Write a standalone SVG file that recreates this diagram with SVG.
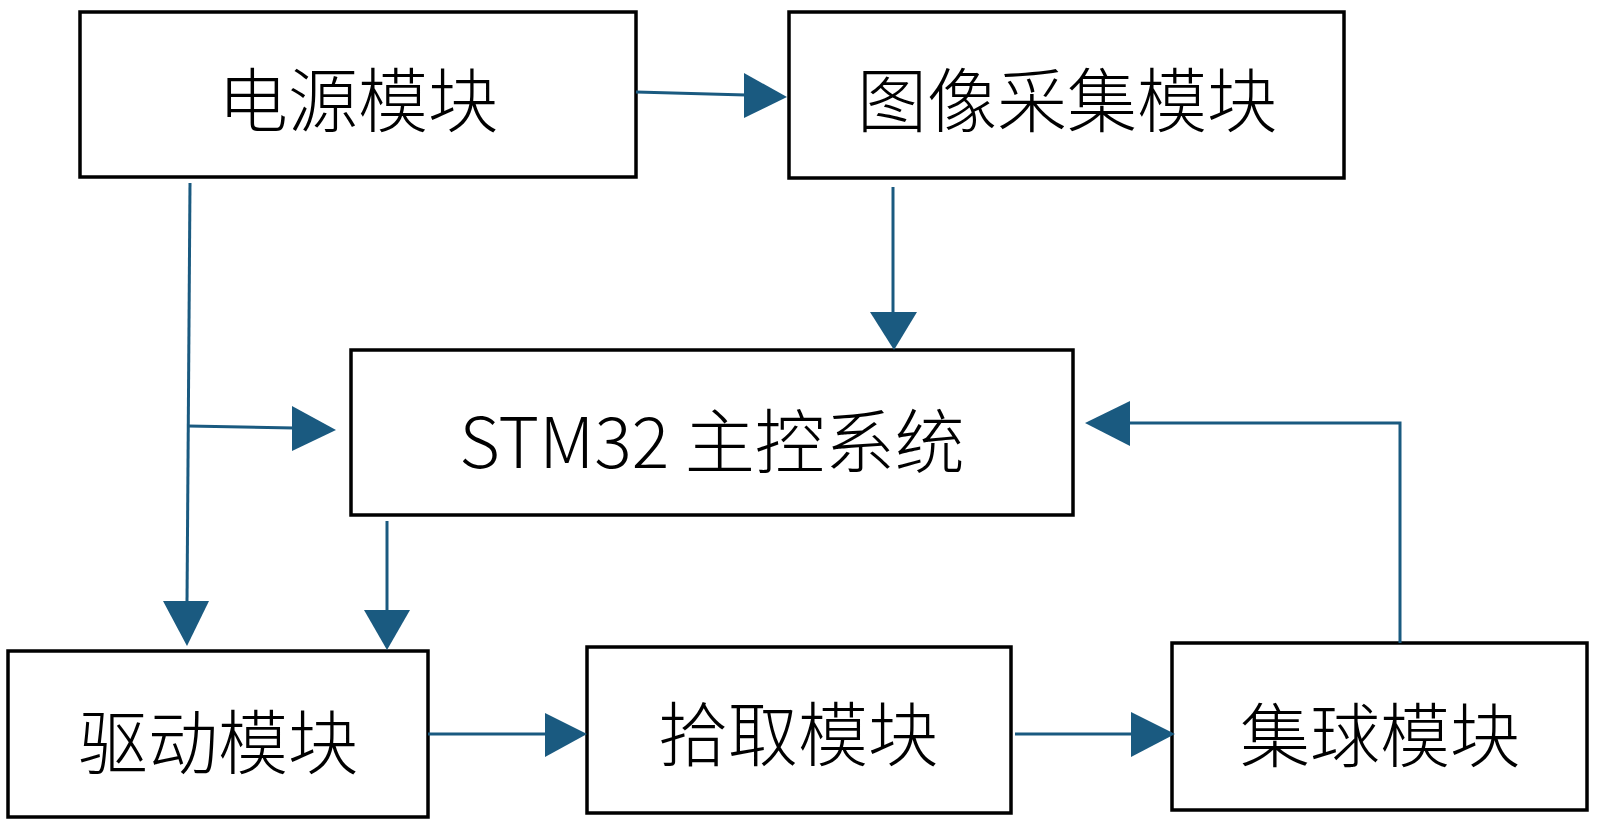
<svg xmlns="http://www.w3.org/2000/svg" width="1600" height="828" viewBox="0 0 1600 828">
<style>
.box{fill:#ffffff;stroke:#000000;stroke-width:3.5}
.lbl{font-family:"Noto Sans CJK SC","Noto Sans",sans-serif;font-size:70px;font-weight:300;fill:#000000;text-anchor:middle}
.ln{fill:none;stroke:#1a5a80;stroke-width:3}
.ah{fill:#1a5a80;stroke:none}
</style>
<rect width="1600" height="828" fill="#ffffff"/>
<g id="node-power"><rect class="box" x="80" y="12" width="556" height="165"/><text class="lbl" x="358" y="127">电源模块</text></g>
<g id="node-image"><rect class="box" x="789" y="12" width="555" height="166"/><text class="lbl" x="1067" y="127">图像采集模块</text></g>
<g id="node-stm32"><rect class="box" x="351" y="350" width="722" height="165"/><text class="lbl" x="712" y="468">STM32 主控系统</text></g>
<g id="node-drive"><rect class="box" x="8" y="651" width="420" height="166"/><text class="lbl" x="218" y="769">驱动模块</text></g>
<g id="node-pick"><rect class="box" x="587" y="647" width="424" height="166"/><text class="lbl" x="798" y="761">拾取模块</text></g>
<g id="node-collect"><rect class="box" x="1172" y="643" width="415" height="167"/><text class="lbl" x="1380" y="762">集球模块</text></g>
<g id="connectors">
<line class="ln" x1="636" y1="92" x2="746" y2="95"/>
<polygon class="ah" points="744,73 787,97 744,118"/>
<line class="ln" x1="190" y1="183" x2="187" y2="603"/>
<polygon class="ah" points="163,601 209,601 187,646"/>
<line class="ln" x1="188" y1="426" x2="294" y2="428"/>
<polygon class="ah" points="292,406 336,430 292,451"/>
<line class="ln" x1="387" y1="521" x2="387" y2="612"/>
<polygon class="ah" points="364,610 410,610 387,650"/>
<line class="ln" x1="893" y1="187" x2="893" y2="314"/>
<polygon class="ah" points="870,312 917,312 894,350"/>
<line class="ln" x1="428" y1="734" x2="547" y2="734"/>
<polygon class="ah" points="545,713 587,734 545,757"/>
<line class="ln" x1="1015" y1="734" x2="1133" y2="734"/>
<polygon class="ah" points="1131,712 1175,734 1131,757"/>
<polyline class="ln" points="1400,643 1400,423 1128,423"/>
<polygon class="ah" points="1130,401 1085,423 1130,446"/>
</g>
</svg>
